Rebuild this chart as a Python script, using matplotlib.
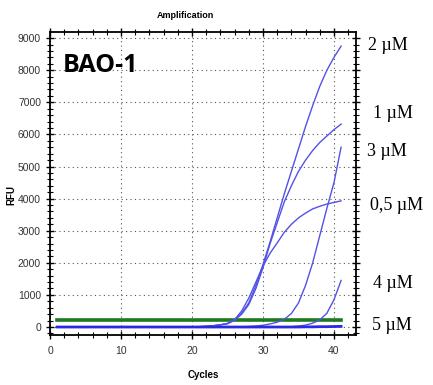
import numpy as np
import matplotlib
matplotlib.use("Agg")
import matplotlib.pyplot as plt
from matplotlib.ticker import MultipleLocator

# --- data (RFU per cycle, cycles 1..41) ---
cycles = list(range(1, 42))

rfu_2uM = [0, 0, 0, 0, 0, 0, 0, 0, 0, 0,
           0, 0, 0, 0, 0, 0, 0, 0, 0, 5,
           10, 20, 40, 70, 110, 230, 430, 750, 1300, 1950,
           2650, 3400, 4150, 4850, 5550, 6250, 6900, 7500, 8000, 8400,
           8750]
rfu_1uM = [0, 0, 0, 0, 0, 0, 0, 0, 0, 0,
           0, 0, 0, 0, 0, 0, 0, 0, 0, 5,
           10, 20, 35, 65, 100, 210, 400, 700, 1200, 1850,
           2600, 3250, 3900, 4400, 4850, 5200, 5500, 5750, 5950, 6150,
           6320]
rfu_3uM = [0, 0, 0, 0, 0, 0, 0, 0, 0, 0,
           0, 0, 0, 0, 0, 0, 0, 0, 0, 0,
           0, 0, 0, 0, 0, 0, 5, 15, 30, 55,
           95, 150, 240, 420, 750, 1300, 2000, 2850, 3700, 4500,
           5600]
rfu_05uM = [0, 0, 0, 0, 0, 0, 0, 0, 0, 0,
            0, 0, 0, 0, 0, 0, 0, 0, 0, 5,
            10, 20, 40, 70, 110, 230, 500, 900, 1400, 1900,
            2300, 2620, 2950, 3200, 3400, 3550, 3680, 3760, 3830, 3880,
            3930]
rfu_4uM = [0, 0, 0, 0, 0, 0, 0, 0, 0, 0,
           0, 0, 0, 0, 0, 0, 0, 0, 0, 0,
           0, 0, 0, 0, 0, 0, 0, 0, 0, 0,
           0, 0, 5, 10, 30, 60, 120, 220, 430, 850,
           1450]
rfu_5uM = [0, 0, 0, 0, 0, 0, 0, 0, 0, 0,
           0, 0, 0, 0, 0, 0, 0, 0, 0, 0,
           0, 0, 0, 0, 0, 0, 0, 0, 0, 0,
           0, 0, 0, 0, 0, 5, 5, 10, 10, 15,
           20]
threshold = 230

series = [rfu_2uM, rfu_1uM, rfu_3uM, rfu_05uM, rfu_4uM, rfu_5uM]
conc_labels = ["2 µM", "1 µM", "3 µM", "0,5 µM", "4 µM", "5 µM"]
# label positions in figure pixels (left x, centre y from top)
label_px = [(368, 46), (373, 114), (367, 152), (370, 206), (373, 283), (372, 325)]

W, H = 433, 385
AX_L, AX_T, AX_W, AX_H = 50, 32, 306, 303
fig = plt.figure(figsize=(W / 100, H / 100), dpi=100)
ax = fig.add_axes([AX_L / W, 1 - (AX_T + AX_H) / H, AX_W / W, AX_H / H])

ax.plot([cycles[0], cycles[-1]], [threshold, threshold], color="#1f7a1f", lw=2.6, zorder=2)
for s in series:
    ax.plot(cycles, s, color="#5252e6", lw=1.0, zorder=3)
# thicker baseline look from overlapping traces
ax.plot(cycles, rfu_5uM, color="#2a2ae0", lw=2.0, zorder=3)

ax.set_xlim(0, 43.1)
ax.set_ylim(-249, 9190)
ax.xaxis.set_major_locator(MultipleLocator(10))
ax.xaxis.set_minor_locator(MultipleLocator(2))
ax.yaxis.set_major_locator(MultipleLocator(1000))
ax.yaxis.set_minor_locator(MultipleLocator(200))
ax.grid(True, which="major", linestyle=(0, (1, 3)), color="#555555", lw=0.8)

sans = ["Liberation Sans", "DejaVu Sans"]
ax.tick_params(which="major", direction="inout", length=6, width=1.0,
               top=True, right=True, labelsize=7.5, pad=5, colors="black")
ax.tick_params(axis="y", which="major", pad=3.5)
ax.tick_params(which="minor", direction="inout", length=4, width=0.8,
               top=True, right=True)
for lab in ax.get_xticklabels() + ax.get_yticklabels():
    lab.set_family(sans)
    lab.set_color("#333333")
for sp in ax.spines.values():
    sp.set_linewidth(1.3)

fig.text(185 / W, 1 - 16 / H, "Amplification", ha="center", va="center",
         fontsize=6.5, fontweight="bold", family=sans)
fig.text(11 / W, 1 - 195 / H, "RFU", ha="center", va="center", rotation=90,
         fontsize=7, fontweight="bold", family=sans)
fig.text(203 / W, 1 - 375 / H, "Cycles", ha="center", va="center",
         fontsize=7, fontweight="bold", family=sans)

ax.text((63 - AX_L) / AX_W, 1 - (72 - AX_T) / AX_H, "BAO-1", transform=ax.transAxes,
        ha="left", va="baseline", fontsize=18, fontweight="bold",
        family=["Open Sans", "DejaVu Sans"])

for (px, py), txt in zip(label_px, conc_labels):
    fig.text(px / W, 1 - py / H, txt, ha="left", va="center", fontsize=13,
             family=["Liberation Serif", "DejaVu Serif"])

fig.savefig("out.png", dpi=100)
